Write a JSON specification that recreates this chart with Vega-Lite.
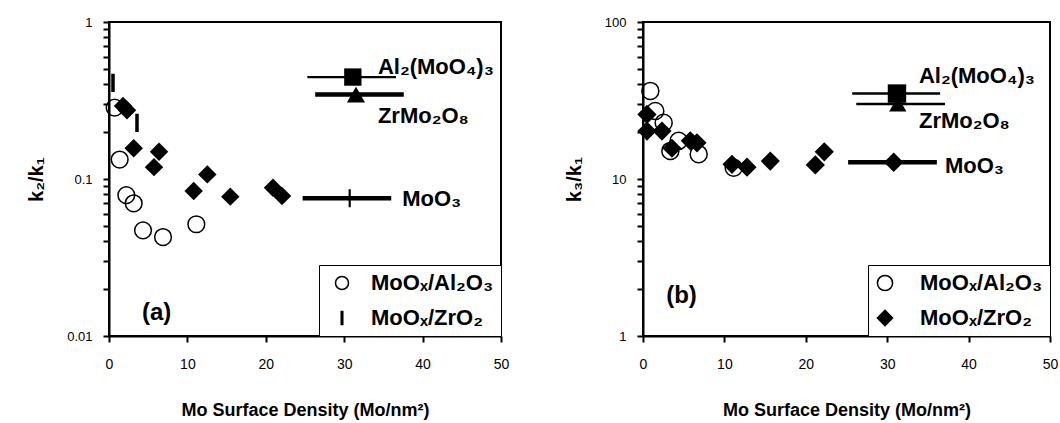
{
  "$schema": "https://vega.github.io/schema/vega-lite/v6.json",
  "background": "white",
  "padding": {"left": 25, "top": 15, "right": 0, "bottom": 0},
  "spacing": 53,
  "config": {
    "view": {"stroke": "black", "strokeWidth": 2},
    "font": "Liberation Sans",
    "axis": {
      "domainColor": "black", "domainWidth": 2, "tickColor": "black", "tickWidth": 2, "tickSize": 6, "ticks": true, "tickOpacity": 1,
      "labelColor": "black", "titleColor": "black", "grid": false, "labelFont": "Liberation Sans",
      "titleFont": "Liberation Sans", "labelFlush": false, "labelOverlap": false, "titleFontWeight": "bold"
    },
    "legend": {
      "orient": "bottom-right", "offset": 0, "strokeColor": "black", "fillColor": "white", "padding": 7,
      "labelFont": "Liberation Sans", "labelFontSize": 22, "labelFontWeight": "bold", "labelColor": "black",
      "symbolStrokeColor": "black", "symbolStrokeWidth": 1.5,
      "rowPadding": 13, "labelLimit": 300
    }
  },
  "resolve": {"scale": {"shape": "independent", "fill": "independent", "stroke": "independent"}, "legend": {"shape": "independent", "fill": "independent", "stroke": "independent"}},
  "datasets": {
    "a_pts": [
      {"x": 0.72, "y": 0.285, "series": "MoOₓ/Al₂O₃"},
      {"x": 1.36, "y": 0.133, "series": "MoOₓ/Al₂O₃"},
      {"x": 2.21, "y": 0.079, "series": "MoOₓ/Al₂O₃"},
      {"x": 3.15, "y": 0.070, "series": "MoOₓ/Al₂O₃"},
      {"x": 4.34, "y": 0.0471, "series": "MoOₓ/Al₂O₃"},
      {"x": 6.89, "y": 0.0427, "series": "MoOₓ/Al₂O₃"},
      {"x": 11.14, "y": 0.0515, "series": "MoOₓ/Al₂O₃"},
      {"x": 0.51, "y": 0.41, "series": "MoOₓ/ZrO₂"},
      {"x": 3.57, "y": 0.228, "series": "MoOₓ/ZrO₂"}
    ],
    "a_diam": [
      {"x": 1.79, "y": 0.292}, {"x": 2.30, "y": 0.274}, {"x": 3.15, "y": 0.157}, {"x": 6.38, "y": 0.149},
      {"x": 5.74, "y": 0.119}, {"x": 12.54, "y": 0.107}, {"x": 10.8, "y": 0.0839}, {"x": 15.47, "y": 0.0772},
      {"x": 20.92, "y": 0.088}, {"x": 22.07, "y": 0.078}
    ],
    "a_ref": [
      {"compound": "Al₂(MoO₄)₃", "x": 31.1, "y": 0.446},
      {"compound": "ZrMo₂O₈", "x": 31.5, "y": 0.345},
      {"compound": "MoO₃", "x": 30.7, "y": 0.0754}
    ],
    "a_bar": [
      {"compound": "Al₂(MoO₄)₃", "x": 25.3, "xend": 36.6, "y": 0.446},
      {"compound": "ZrMo₂O₈", "x": 26.3, "xend": 37.6, "y": 0.345},
      {"compound": "MoO₃", "x": 24.7, "xend": 36.0, "y": 0.0754}
    ],
    "a_lbl": [
      {"label": "Al₂(MoO₄)₃", "x": 34.3, "y": 0.469},
      {"label": "ZrMo₂O₈", "x": 34.3, "y": 0.228},
      {"label": "MoO₃", "x": 37.4, "y": 0.0673}
    ],
    "a_tag": [{"label": "(a)", "x": 6.08, "y": 0.0141}],
    "b_pts": [
      {"x": 0.90, "y": 36.4, "series": "MoOₓ/Al₂O₃"},
      {"x": 1.51, "y": 27.1, "series": "MoOₓ/Al₂O₃"},
      {"x": 2.54, "y": 22.8, "series": "MoOₓ/Al₂O₃"},
      {"x": 3.36, "y": 15.1, "series": "MoOₓ/Al₂O₃"},
      {"x": 4.38, "y": 17.5, "series": "MoOₓ/Al₂O₃"},
      {"x": 6.84, "y": 14.4, "series": "MoOₓ/Al₂O₃"},
      {"x": 11.14, "y": 11.8, "series": "MoOₓ/Al₂O₃"},
      {"x": 0.49, "y": 25.8, "series": "MoOₓ/ZrO₂"},
      {"x": 0.49, "y": 20.2, "series": "MoOₓ/ZrO₂"},
      {"x": 2.33, "y": 20.2, "series": "MoOₓ/ZrO₂"},
      {"x": 3.56, "y": 15.7, "series": "MoOₓ/ZrO₂"},
      {"x": 5.81, "y": 17.5, "series": "MoOₓ/ZrO₂"},
      {"x": 6.63, "y": 17.0, "series": "MoOₓ/ZrO₂"},
      {"x": 10.93, "y": 12.4, "series": "MoOₓ/ZrO₂"},
      {"x": 12.78, "y": 11.9, "series": "MoOₓ/ZrO₂"},
      {"x": 15.64, "y": 13.0, "series": "MoOₓ/ZrO₂"},
      {"x": 21.17, "y": 12.3, "series": "MoOₓ/ZrO₂"},
      {"x": 22.27, "y": 14.9, "series": "MoOₓ/ZrO₂"}
    ],
    "b_ref": [
      {"compound": "Al₂(MoO₄)₃", "x": 31.2, "y": 35.0},
      {"compound": "ZrMo₂O₈", "x": 31.3, "y": 30.0},
      {"compound": "MoO₃", "x": 30.8, "y": 12.8}
    ],
    "b_bar": [
      {"compound": "Al₂(MoO₄)₃", "x": 25.7, "xend": 36.5, "y": 35.0},
      {"compound": "ZrMo₂O₈", "x": 26.2, "xend": 37.1, "y": 30.0},
      {"compound": "MoO₃", "x": 25.2, "xend": 36.1, "y": 12.8}
    ],
    "b_lbl": [
      {"label": "Al₂(MoO₄)₃", "x": 33.9, "y": 41.1},
      {"label": "ZrMo₂O₈", "x": 33.9, "y": 21.2},
      {"label": "MoO₃", "x": 37.1, "y": 11.0}
    ],
    "b_tag": [{"label": "(b)", "x": 4.73, "y": 1.8}]
  },
  "hconcat": [
    {
      "width": 392, "height": 314,
      "encoding": {
        "x": {"field": "x", "type": "quantitative", "scale": {"domain": [0, 50], "nice": false, "zero": false},
          "axis": {"values": [0, 10, 20, 30, 40, 50], "ticks": true, "tickSize": 6, "tickWidth": 2, "tickColor": "black", "labelFontSize": 14, "labelPadding": 15, "title": "Mo Surface Density (Mo/nm²)", "titleFontSize": 18, "titlePadding": 30}},
        "y": {"field": "y", "type": "quantitative", "scale": {"type": "log", "domain": [0.01, 1], "nice": false},
          "axis": {"values": [0.01, 0.02, 0.03, 0.04, 0.05, 0.06, 0.07, 0.08, 0.09, 0.1, 0.2, 0.3, 0.4, 0.5, 0.6, 0.7, 0.8, 0.9, 1],
            "ticks": true, "tickSize": 6, "tickWidth": 2, "tickColor": "black",
            "labelExpr": "datum.value == 1 ? '1' : datum.value == 0.1 ? '0.1' : datum.value == 0.01 ? '0.01' : ''",
            "labelFontSize": 13, "labelPadding": 11, "title": "k₂/k₁", "titleFontSize": 20, "titlePadding": 20}}
      },
      "layer": [
        {"data": {"name": "a_bar"}, "transform": [{"filter": "datum.compound == 'Al₂(MoO₄)₃'"}],
          "mark": {"type": "rule", "stroke": "black", "strokeWidth": 2.3},
          "encoding": {"x2": {"field": "xend"}}},
        {"data": {"name": "a_bar"}, "transform": [{"filter": "datum.compound != 'Al₂(MoO₄)₃'"}],
          "mark": {"type": "rule", "stroke": "black", "strokeWidth": 4.5},
          "encoding": {"x2": {"field": "xend"}}},
        {"data": {"name": "a_pts"},
          "mark": {"type": "point", "filled": true, "strokeWidth": 1.5, "opacity": 1, "size": 280},
          "encoding": {
            "shape": {"field": "series", "type": "nominal", "scale": {"domain": ["MoOₓ/Al₂O₃", "MoOₓ/ZrO₂"], "range": ["circle", "M-0.12,-1H0.12V1H-0.12Z"]},
              "legend": {"title": null, "symbolSize": 169, "symbolOffset": 5, "labelOffset": 18}},
            "fill": {"field": "series", "type": "nominal", "scale": {"domain": ["MoOₓ/Al₂O₃", "MoOₓ/ZrO₂"], "range": ["transparent", "black"]},
              "legend": {"title": null, "symbolSize": 169, "symbolOffset": 5, "labelOffset": 18}},
            "stroke": {"field": "series", "type": "nominal", "scale": {"domain": ["MoOₓ/Al₂O₃", "MoOₓ/ZrO₂"], "range": ["black", "black"]},
              "legend": {"title": null, "symbolSize": 169, "symbolOffset": 5, "labelOffset": 18}}
          }},
        {"data": {"name": "a_diam"},
          "mark": {"type": "point", "shape": "diamond", "filled": true, "color": "black", "opacity": 1, "size": 340}},
        {"data": {"name": "a_ref"}, "transform": [{"filter": "datum.compound == 'Al₂(MoO₄)₃'"}],
          "mark": {"type": "point", "shape": "square", "filled": true, "color": "black", "opacity": 1, "size": 300}},
        {"data": {"name": "a_ref"}, "transform": [{"filter": "datum.compound == 'ZrMo₂O₈'"}],
          "mark": {"type": "point", "shape": "triangle-up", "filled": true, "color": "black", "opacity": 1, "size": 330}},
        {"data": {"name": "a_ref"}, "transform": [{"filter": "datum.compound == 'MoO₃'"}],
          "mark": {"type": "point", "shape": "M-0.12,-1H0.12V1H-0.12Z", "filled": true, "color": "black", "opacity": 1, "size": 324}},
        {"data": {"name": "a_lbl"},
          "mark": {"type": "text", "align": "left", "baseline": "alphabetic", "font": "Liberation Sans", "fontSize": 22, "fontWeight": "bold", "color": "black"},
          "encoding": {"text": {"field": "label"}}},
        {"data": {"name": "a_tag"},
          "mark": {"type": "text", "align": "center", "baseline": "middle", "font": "Liberation Sans", "fontSize": 24, "fontWeight": "bold", "color": "black"},
          "encoding": {"text": {"field": "label"}}}
      ]
    },
    {
      "width": 407, "height": 314,
      "encoding": {
        "x": {"field": "x", "type": "quantitative", "scale": {"domain": [0, 50], "nice": false, "zero": false},
          "axis": {"values": [0, 10, 20, 30, 40, 50], "ticks": true, "tickSize": 6, "tickWidth": 2, "tickColor": "black", "labelFontSize": 14, "labelPadding": 15, "title": "Mo Surface Density (Mo/nm²)", "titleFontSize": 18, "titlePadding": 30}},
        "y": {"field": "y", "type": "quantitative", "scale": {"type": "log", "domain": [1, 100], "nice": false},
          "axis": {"values": [1, 2, 3, 4, 5, 6, 7, 8, 9, 10, 20, 30, 40, 50, 60, 70, 80, 90, 100],
            "ticks": true, "tickSize": 6, "tickWidth": 2, "tickColor": "black",
            "labelExpr": "datum.value == 1 ? '1' : datum.value == 10 ? '10' : datum.value == 100 ? '100' : ''",
            "labelFontSize": 13, "labelPadding": 11, "title": "k₃/k₁", "titleFontSize": 20, "titlePadding": 20}}
      },
      "layer": [
        {"data": {"name": "b_bar"}, "transform": [{"filter": "datum.compound != 'MoO₃'"}],
          "mark": {"type": "rule", "stroke": "black", "strokeWidth": 2.5},
          "encoding": {"x2": {"field": "xend"}}},
        {"data": {"name": "b_bar"}, "transform": [{"filter": "datum.compound == 'MoO₃'"}],
          "mark": {"type": "rule", "stroke": "black", "strokeWidth": 4.5},
          "encoding": {"x2": {"field": "xend"}}},
        {"data": {"name": "b_pts"},
          "mark": {"type": "point", "filled": true, "strokeWidth": 1.5, "opacity": 1, "size": 290},
          "encoding": {
            "shape": {"field": "series", "type": "nominal", "scale": {"domain": ["MoOₓ/Al₂O₃", "MoOₓ/ZrO₂"], "range": ["circle", "diamond"]},
              "legend": {"title": null, "symbolSize": 230, "symbolOffset": -1, "labelOffset": 24}},
            "fill": {"field": "series", "type": "nominal", "scale": {"domain": ["MoOₓ/Al₂O₃", "MoOₓ/ZrO₂"], "range": ["transparent", "black"]},
              "legend": {"title": null, "symbolSize": 230, "symbolOffset": -1, "labelOffset": 24}},
            "stroke": {"field": "series", "type": "nominal", "scale": {"domain": ["MoOₓ/Al₂O₃", "MoOₓ/ZrO₂"], "range": ["black", "black"]},
              "legend": {"title": null, "symbolSize": 230, "symbolOffset": -1, "labelOffset": 24}}
          }},
        {"data": {"name": "b_ref"}, "transform": [{"filter": "datum.compound == 'Al₂(MoO₄)₃'"}],
          "mark": {"type": "point", "shape": "square", "filled": true, "color": "black", "opacity": 1, "size": 340}},
        {"data": {"name": "b_ref"}, "transform": [{"filter": "datum.compound == 'ZrMo₂O₈'"}],
          "mark": {"type": "point", "shape": "triangle-up", "filled": true, "color": "black", "opacity": 1, "size": 300}},
        {"data": {"name": "b_ref"}, "transform": [{"filter": "datum.compound == 'MoO₃'"}],
          "mark": {"type": "point", "shape": "diamond", "filled": true, "color": "black", "opacity": 1, "size": 380}},
        {"data": {"name": "b_lbl"},
          "mark": {"type": "text", "align": "left", "baseline": "alphabetic", "font": "Liberation Sans", "fontSize": 22, "fontWeight": "bold", "color": "black"},
          "encoding": {"text": {"field": "label"}}},
        {"data": {"name": "b_tag"},
          "mark": {"type": "text", "align": "center", "baseline": "middle", "font": "Liberation Sans", "fontSize": 24, "fontWeight": "bold", "color": "black"},
          "encoding": {"text": {"field": "label"}}}
      ]
    }
  ]
}
